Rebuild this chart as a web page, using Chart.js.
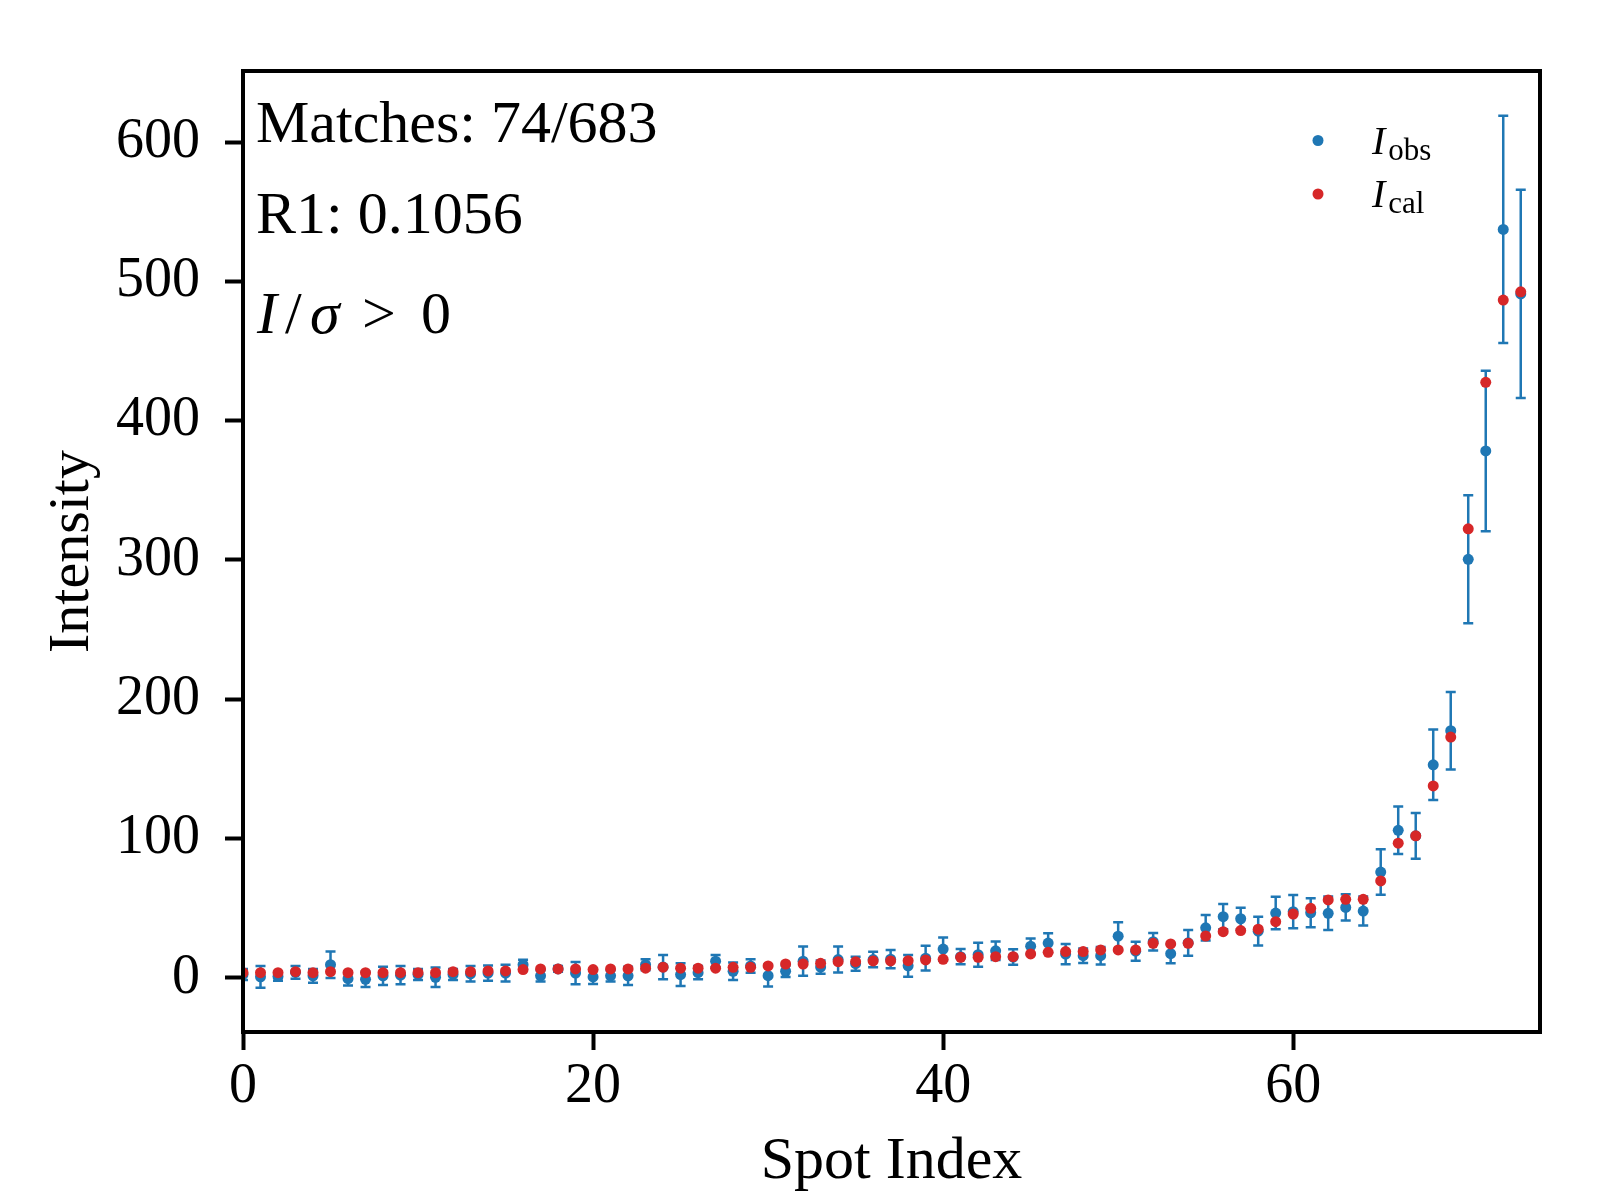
<!DOCTYPE html>
<html>
<head>
<meta charset="utf-8">
<script src="https://cdn.jsdelivr.net/npm/chart.js@4"></script>
<style>
    html, body { margin: 0; padding: 0; background: #fff; }
    #wrap { width: 1620px; height: 1200px; }
</style>
</head>
<body>
<div id="wrap"><canvas id="spotChart" width="1620" height="1200"></canvas></div>
<script>
// 관측 강도 (I_obs), spot index 0..73
const obsValues = [
    2.5, 0.8, 1, 4, 1.5, 9.5, -0.5, -1, 1.5, 2,
    2.5, 0.5, 2.5, 3, 3.5, 3.5, 9.5, 1.5, 6.5, 3.5,
    0.7, 1.5, 1.5, 9.5, 7.8, 2.4, 3.8, 12, 4.8, 8.6,
    1.6, 4.8, 12, 7.8, 13.2, 10.2, 13.2, 13.5, 8.7, 14.2,
    20.7, 15.3, 16.7, 19.5, 15, 22.8, 25, 17.1, 16, 16,
    30, 19.2, 26, 17.4, 25.2, 36, 44, 42.5, 33.6, 46.6,
    47.6, 46.8, 46.4, 50.6, 48, 76, 106, 102, 153, 177.5,
    300.5, 378.3, 537.3, 491
];
// 계산 강도 (I_cal)
const calValues = [
    3.8, 3.8, 3.8, 4.5, 3.8, 4.5, 3.8, 3.8, 3.8, 3.8,
    3.8, 3.8, 4.5, 4.5, 5, 5, 6, 6.5, 6.5, 6.5,
    6, 6.5, 6.5, 7, 7.7, 7, 7, 7, 7.6, 7.6,
    8.6, 10, 10, 10.5, 11.7, 11.7, 12.2, 12.2, 12.4, 12.9,
    13.4, 14.8, 14.8, 15.3, 15.3, 17.2, 18.4, 18.9, 18.9, 20.1,
    20.1, 20.1, 24.9, 24.4, 24.9, 30.1, 33.2, 34, 35, 40.4,
    45.9, 50, 56, 56.4, 56.4, 69.6, 96.7, 102, 137.8, 172.9,
    322.4, 427.5, 486.6, 492.5
];
// 관측값 오차 (sigma)
const obsErrors = [
    4, 7.8, 3, 4.5, 5, 9.5, 5, 5.5, 6.5, 6.5,
    4, 7, 4, 5.5, 5.5, 6, 3.5, 4, 2, 8,
    5, 4, 6.5, 4, 8.7, 8.1, 4.8, 4.4, 6.2, 4.8,
    7.8, 4.2, 10.5, 4.8, 9.3, 5.1, 5.6, 6.6, 7.8, 8.9,
    8.3, 5.5, 8.6, 6.7, 5.6, 5.6, 7, 7.3, 5.2, 6.3,
    10, 6.8, 6.3, 6.9, 9.2, 9.2, 9, 7.8, 10.4, 11.7,
    12, 10.4, 12, 9.4, 10.4, 16.3, 17.1, 16.4, 25.3, 27.8,
    45.9, 57.6, 81.6, 74.7
];
const spotIndex = obsValues.map((_, i) => i);

const xTicks = [0, 20, 40, 60];
const yTicks = [0, 100, 200, 300, 400, 500, 600];

const BLUE = '#1f77b4';
const RED = '#d62728';
const FONT = "'Liberation Serif', 'DejaVu Serif', serif";

// 오차 막대 플러그인
const errorBarPlugin = {
    id: 'errorBars',
    beforeDatasetsDraw(chart) {
        const ctx = chart.ctx;
        const xs = chart.scales.x;
        const ys = chart.scales.y;
        const area = chart.chartArea;
        ctx.save();
        ctx.beginPath();
        ctx.rect(area.left, area.top, area.right - area.left, area.bottom - area.top);
        ctx.clip();
        ctx.strokeStyle = BLUE;
        ctx.lineWidth = 2.5;
        spotIndex.forEach((x, i) => {
            const px = xs.getPixelForValue(x);
            const top = ys.getPixelForValue(obsValues[i] + obsErrors[i]);
            const bot = ys.getPixelForValue(obsValues[i] - obsErrors[i]);
            ctx.beginPath();
            ctx.moveTo(px, top);
            ctx.lineTo(px, bot);
            ctx.moveTo(px - 5, top);
            ctx.lineTo(px + 5, top);
            ctx.moveTo(px - 5, bot);
            ctx.lineTo(px + 5, bot);
            ctx.stroke();
        });
        ctx.restore();
    }
};

// 테두리 + 텍스트 + 범례
const decorPlugin = {
    id: 'decor',
    afterDatasetsDraw(chart) {
        const ctx = chart.ctx;
        const a = chart.chartArea;
        ctx.save();
        ctx.strokeStyle = '#000';
        ctx.lineWidth = 4;
        ctx.strokeRect(a.left, a.top, a.right - a.left, a.bottom - a.top);

        ctx.fillStyle = '#000';
        ctx.textBaseline = 'alphabetic';
        ctx.textAlign = 'left';
        ctx.font = `60px ${FONT}`;
        ctx.fillText('Matches: 74/683', 256, 142);
        ctx.fillText('R1: 0.1056', 256, 233);

        // I/σ > 0
        ctx.font = `italic 60px ${FONT}`;
        ctx.fillText('I', 257, 333);
        ctx.font = `60px ${FONT}`;
        ctx.fillText('/', 285, 333);
        ctx.font = `italic 60px ${FONT}`;
        ctx.fillText('σ', 310, 333);
        ctx.font = `60px ${FONT}`;
        ctx.fillText('>', 362, 333);
        ctx.fillText('0', 421, 333);

        // 범례
        const items = [
            { color: BLUE, sub: 'obs', y: 140.5 },
            { color: RED, sub: 'cal', y: 194 }
        ];
        items.forEach(it => {
            ctx.fillStyle = it.color;
            ctx.beginPath();
            ctx.arc(1318, it.y, 5.5, 0, Math.PI * 2);
            ctx.fill();
            ctx.fillStyle = '#000';
            ctx.font = `italic 40px ${FONT}`;
            ctx.fillText('I', 1372, it.y + 13);
            const w = ctx.measureText('I').width;
            ctx.font = `31px ${FONT}`;
            ctx.fillText(it.sub, 1372 + w + 3, it.y + 19);
        });
        ctx.restore();
    }
};

const spotChart = new Chart(document.getElementById('spotChart'), {
    type: 'scatter',
    data: {
        datasets: [
            {
                label: 'I_cal',
                data: spotIndex.map((x, i) => ({ x: x, y: calValues[i] })),
                backgroundColor: RED,
                borderWidth: 0,
                pointRadius: 5.5,
                order: 0,
                clip: 0
            },
            {
                label: 'I_obs',
                data: spotIndex.map((x, i) => ({ x: x, y: obsValues[i] })),
                backgroundColor: BLUE,
                borderWidth: 0,
                pointRadius: 5.5,
                order: 1,
                clip: 0
            }
        ]
    },
    options: {
        responsive: false,
        animation: false,
        devicePixelRatio: 1,
        layout: { padding: { left: 0, top: 71, right: 80, bottom: 0 } },
        plugins: {
            legend: { display: false },
            tooltip: { enabled: false }
        },
        scales: {
            x: {
                type: 'linear',
                min: 0,
                max: 74.1,
                afterBuildTicks: s => { s.ticks = xTicks.map(v => ({ value: v })); },
                afterFit: s => { s.height = 168; },
                grid: { drawOnChartArea: false, drawTicks: true, tickLength: 18, tickWidth: 4, tickColor: '#000' },
                border: { display: true, width: 4, color: '#000' },
                ticks: { color: '#000', padding: 4, maxRotation: 0, font: { family: FONT, size: 56 } },
                title: {
                    display: true,
                    text: 'Spot Index',
                    color: '#000',
                    font: { family: FONT, size: 60, lineHeight: 1 },
                    padding: { top: 0, bottom: 8 }
                }
            },
            y: {
                type: 'linear',
                min: -38.8,
                max: 651,
                afterBuildTicks: s => { s.ticks = yTicks.map(v => ({ value: v })); },
                afterFit: s => { s.width = 243; },
                grid: { drawOnChartArea: false, drawTicks: true, tickLength: 18, tickWidth: 4, tickColor: '#000' },
                border: { display: true, width: 4, color: '#000' },
                ticks: { color: '#000', padding: 25, font: { family: FONT, size: 56 } },
                title: {
                    display: true,
                    text: 'Intensity',
                    color: '#000',
                    font: { family: FONT, size: 58, lineHeight: 1 },
                    padding: { top: 44, bottom: 0 }
                }
            }
        }
    },
    plugins: [errorBarPlugin, decorPlugin]
});
</script>
</body>
</html>
